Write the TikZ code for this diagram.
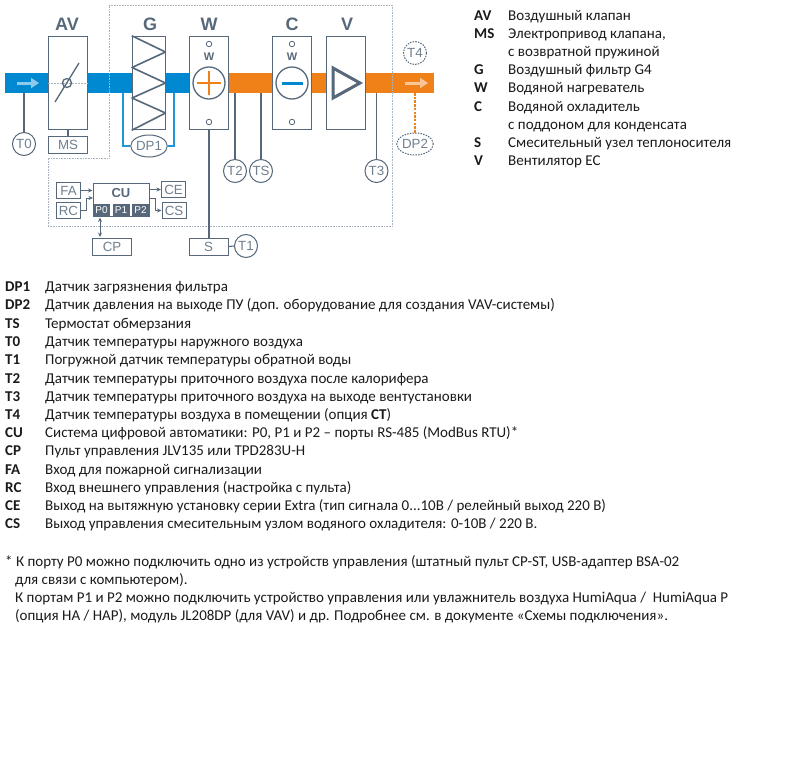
\documentclass[tikz,border=0pt]{standalone}
\usepackage{fontspec}
\setmainfont{Carlito}
\newfontfamily\labelfont{Liberation Sans}
\usetikzlibrary{shapes.geometric,arrows.meta}
\definecolor{slate}{HTML}{56687A}
\definecolor{ductblue}{HTML}{0088D0}
\definecolor{ductorange}{HTML}{F08018}
\definecolor{lineblue}{HTML}{1E96D8}
\definecolor{frameclr}{HTML}{A8B4C0}
\definecolor{txt}{HTML}{1A1A1A}
\tikzset{
  unit/.style={draw=slate,line width=1.5pt,fill=white,inner sep=0pt,minimum width=39pt,minimum height=93pt},
  head/.style={text=slate,font=\labelfont\bfseries\fontsize{18}{18}\selectfont,inner sep=0pt},
  wlabel/.style={text=slate,font=\labelfont\bfseries\fontsize{11}{11}\selectfont,inner sep=0pt},
  port/.style={circle,draw=slate,line width=.8pt,fill=white,inner sep=0pt,minimum size=5.5pt},
  tag/.style={draw=slate,line width=1pt,fill=white,inner sep=0pt,text=slate!85!white,font=\labelfont\fontsize{13.3}{13.3}\selectfont},
  sbox/.style={tag,minimum width=24pt,minimum height=16pt},
  wbox/.style={tag,minimum width=39pt,minimum height=17pt},
  sensor/.style={tag,circle,minimum size=23pt},
  sensorell/.style={tag,ellipse,minimum width=33pt,minimum height=22pt},
  dashedtag/.style={dash pattern=on 1.5pt off 1.2pt},
  pbox/.style={fill=slate,text=white,inner sep=0pt,minimum height=12pt,font=\labelfont\fontsize{10}{10}\selectfont},
  wire/.style={draw=slate,line width=1.1pt},
  sig/.style={draw=slate,line width=.8pt,-{Stealth[length=4.5pt,width=4pt]}},
  coil/.style={circle,draw=slate,line width=1.3pt,fill=white,minimum size=32pt,inner sep=0pt},
  key/.style={anchor=base west,inner sep=0pt,text=txt,font=\bfseries\fontsize{15}{15}\selectfont},
  desc/.style={anchor=base west,inner sep=0pt,text=txt,font=\fontsize{15}{15}\selectfont},
}
\begin{document}
\begin{tikzpicture}[x=1pt,y=-1pt]
\useasboundingbox (0,0) rectangle (800,777);
% ducts
\node[fill=ductblue,inner sep=0pt,minimum width=185pt,minimum height=20pt] (bduct) at (97.5,83) {};
\node[fill=ductorange,inner sep=0pt,minimum width=205pt,minimum height=20pt] (oduct) at (331.5,83) {};
% frame
\draw[frameclr,line width=.6pt,densely dotted] (109,5) -- (392,5) -- (392,226.5) -- (48,226.5) -- (48,158) -- (109,158) -- cycle;
% duct arrows
\coordinate (ba1) at (17,83); \coordinate (ba2) at (39,83);
\coordinate (oa1) at (405,83); \coordinate (oa2) at (428,83);
\draw[draw=ductblue!45!white,line width=3pt,-{Triangle[length=8pt,width=10pt]}] (ba1) -- (ba2);
\draw[draw=ductorange!45!white,line width=3pt,-{Triangle[length=8pt,width=10pt]}] (oa1) -- (oa2);
% units
\node[unit] (AV) at (68,83) {};
\node[unit,minimum width=33pt] (G) at (149,83) {};
\node[unit] (W) at (209,83) {};
\node[unit] (C) at (292,83) {};
\node[unit] (V) at (346,83) {};
\node[head] (lAV) at (67,24) {AV};
\node[head] (lG) at (150,24) {G};
\node[head] (lW) at (209,24) {W};
\node[head] (lC) at (292,24) {C};
\node[head] (lV) at (347,24) {V};
% damper
\draw[frameclr,line width=.5pt,densely dotted] (AV.west) -- (AV.east);
\draw[slate,line width=1.3pt] (55,102) -- (79,63);
\node[circle,draw=slate,line width=1.3pt,minimum size=9pt,inner sep=0pt] (damper) at (67,83) {};
% filter
\draw[slate,line width=1.6pt,line join=round] (G.north west) -- (165.5,52) -- (132,67.5) -- (165.5,83) -- (132,98) -- (165.5,113) -- (G.south west);
% heater
\node[port] (wt) at (209,44) {};
\node[port] (wb) at (209,122) {};
\node[wlabel] (wl) at (209,57) {W};
\node[coil] (wc) at (209,83) {};
\draw[ductorange,line width=1.5pt] (197,83) -- (221,83) (209,71) -- (209,95);
% cooler
\node[port] (ct) at (292,44) {};
\node[port] (cb) at (292,122) {};
\node[wlabel] (cl) at (292,57) {W};
\node[coil] (cc) at (292,83) {};
\draw[ductblue,line width=2.6pt] (282,83.5) -- (303,83.5);
% fan
\draw[slate,line width=3pt,line join=miter] (333,68) -- (360,83) -- (333,98) -- cycle;
% sensors
\node[wbox] (MS) at (68,144.5) {MS};
\draw[wire] (AV.south) -- (MS.north);
\node[sensor] (T0) at (24,144) {T0};
\draw[wire] (T0.north) -- (T0|-bduct.south);
\node[sensorell] (DP1) at (149,146) {DP1};
\coordinate (dpl) at (123,93); \coordinate (dpr) at (174,93);
\draw[lineblue,line width=1.3pt] (dpl) |- (DP1.west);
\draw[lineblue,line width=1.3pt] (dpr) |- (DP1.east);
\node[sensor] (T2) at (235,171) {T2};
\node[sensor] (TS) at (261,171) {TS};
\node[sensor] (T3) at (376.5,171) {T3};
\draw[wire] (T2.north) -- (T2|-oduct.south);
\draw[wire] (TS.north) -- (TS|-oduct.south);
\draw[wire] (T3.north) -- (T3|-oduct.south);
\node[sensor,dashedtag] (T4) at (415,53) {T4};
\node[sensorell,dashedtag] (DP2) at (415,144) {DP2};
\draw[ductorange,line width=1.8pt,dash pattern=on 2.5pt off 1.2pt] (DP2.north) -- (DP2|-oduct.south);
% water
\node[wbox] (S) at (208.5,246.5) {S};
\node[sensor] (T1) at (246,246) {T1};
\draw[wire] (W.south) -- (W.south|-S.north);
\draw[wire] (S.east) -- (T1.west);
% control unit
\node[draw=slate,line width=1pt,fill=white,inner sep=0pt,minimum width=56pt,minimum height=33pt] (CU) at (121,199.5) {};
\node[text=slate,font=\labelfont\bfseries\fontsize{13}{13}\selectfont,inner sep=0pt] (CUt) at (121,193.5) {CU};
\node[pbox,minimum width=17pt] (P0) at (101.5,210) {P0};
\node[pbox,minimum width=17pt] (P1) at (121,210) {P1};
\node[pbox,minimum width=17pt] (P2) at (140.5,210) {P2};
\node[sbox] (FA) at (68.5,190.5) {FA};
\node[sbox] (RC) at (68.5,210.5) {RC};
\node[sbox] (CE) at (173.5,189.5) {CE};
\node[sbox] (CS) at (174,210.5) {CS};
\node[wbox] (CP) at (112,246.5) {CP};
\draw[sig] (FA.east) -- (FA.east-|CU.west);
\coordinate (rcin) at (93,198);
\draw[sig] (RC.east) -- ++(5,0) |- (rcin);
\draw[sig] (CU.east|-CE.west) -- (CE.west);
\coordinate (csout) at (149,198);
\draw[sig] (csout) -- ++(6,0) |- (CS.west);
\draw[draw=slate,line width=.8pt,{Stealth[length=4.5pt,width=4pt]}-{Stealth[length=4.5pt,width=4pt]}] (100,217.5) -- (100,237);
% right legend
\node[key] (kAV) at (474,20) {AV};   \node[desc] (dAV) at (508,20) {Воздушный клапан};
\node[key] (kMS) at (474,38) {MS};   \node[desc] (dMS) at (508,38) {Электропривод клапана,};
\node[desc] (dMS2) at (508,56) {с возвратной пружиной};
\node[key] (kG) at (474,74) {G};     \node[desc] (dG) at (508,74) {Воздушный фильтр G4};
\node[key] (kW) at (474,92) {W};     \node[desc] (dW) at (508,92) {Водяной нагреватель};
\node[key] (kC) at (474,111) {C};    \node[desc] (dC) at (508,111) {Водяной охладитель};
\node[desc] (dC2) at (508,129) {с поддоном для конденсата};
\node[key] (kS) at (474,147) {S};    \node[desc] (dS) at (508,147) {Смесительный узел теплоносителя};
\node[key] (kV) at (474,165) {V};    \node[desc] (dV) at (508,165) {Вентилятор EC};
% lower legend
\node[key] (kDPa) at (5,291) {DP1};  \node[desc] (dDPa) at (45,291) {Датчик загрязнения фильтра};
\node[key] (kDPb) at (5,309) {DP2};  \node[desc] (dDPb) at (45,309) {Датчик давления на выходе ПУ (доп. оборудование для создания VAV-системы)};
\node[key] (kTS) at (5,328) {TS};    \node[desc] (dTS) at (45,328) {Термостат обмерзания};
\node[key] (kT0) at (5,346) {T0};    \node[desc] (dT0) at (45,346) {Датчик температуры наружного воздуха};
\node[key] (kT1) at (5,364) {T1};    \node[desc] (dT1) at (45,364) {Погружной датчик температуры обратной воды};
\node[key] (kT2) at (5,383) {T2};    \node[desc] (dT2) at (45,383) {Датчик температуры приточного воздуха после калорифера};
\node[key] (kT3) at (5,401) {T3};    \node[desc] (dT3) at (45,401) {Датчик температуры приточного воздуха на выходе вентустановки};
\node[key] (kT4) at (5,419) {T4};    \node[desc] (dT4) at (45,419) {Датчик температуры воздуха в помещении (опция \textbf{CT})};
\node[key] (kCU) at (5,437) {CU};    \node[desc] (dCU) at (45,437) {Система цифровой автоматики: P0, P1 и P2 – порты RS-485 (ModBus RTU)*};
\node[key] (kCP) at (5,455) {CP};    \node[desc] (dCP) at (45,455) {Пульт управления JLV135 или TPD283U-H};
\node[key] (kFA) at (5,474) {FA};    \node[desc] (dFA) at (45,474) {Вход для пожарной сигнализации};
\node[key] (kRC) at (5,492) {RC};    \node[desc] (dRC) at (45,492) {Вход внешнего управления (настройка с пульта)};
\node[key] (kCE) at (5,510) {CE};    \node[desc] (dCE) at (45,510) {Выход на вытяжную установку серии Extra (тип сигнала 0...10В / релейный выход 220 В)};
\node[key] (kCS) at (5,528) {CS};    \node[desc] (dCS) at (45,528) {Выход управления смесительным узлом водяного охладителя: 0-10В / 220 В.};
% footnotes
\node[desc] (f1) at (5,566) {* К порту P0 можно подключить одно из устройств управления (штатный пульт CP-ST, USB-адаптер BSA-02};
\node[desc] (f2) at (15,584) {для связи с компьютером).};
\node[desc] (f3) at (15,602) {К портам P1 и P2 можно подключить устройство управления или увлажнитель воздуха HumiAqua /\ \ HumiAqua P};
\node[desc] (f4) at (15,620) {(опция HA / HAP), модуль JL208DP (для VAV) и др. Подробнее см. в документе «Схемы подключения».};
\end{tikzpicture}
\end{document}
